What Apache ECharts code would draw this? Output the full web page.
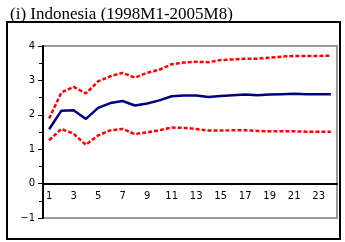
<!DOCTYPE html>
<html>
<head>
<meta charset="utf-8">
<script src="https://cdn.jsdelivr.net/npm/echarts@6/dist/echarts.min.js"></script>
<style>
html,body{margin:0;padding:0;background:#fff;}
#chart{width:345px;height:242px;}
</style>
</head>
<body>
<div id="chart"></div>
<script>
// horizons 1..24
var months = [];
for (var i = 1; i <= 24; i++) months.push(String(i));

var center = [1.58, 2.12, 2.13, 1.88, 2.20, 2.34, 2.40, 2.27, 2.33, 2.42, 2.54, 2.56,
              2.56, 2.52, 2.55, 2.57, 2.59, 2.57, 2.59, 2.60, 2.61, 2.60, 2.60, 2.60];
var upper  = [1.89, 2.65, 2.81, 2.62, 2.97, 3.12, 3.22, 3.08, 3.22, 3.31, 3.47, 3.52,
              3.54, 3.53, 3.59, 3.61, 3.63, 3.63, 3.66, 3.69, 3.71, 3.71, 3.71, 3.72];
var lower  = [1.26, 1.59, 1.45, 1.13, 1.40, 1.55, 1.59, 1.44, 1.49, 1.55, 1.63, 1.62,
              1.59, 1.54, 1.54, 1.55, 1.55, 1.53, 1.52, 1.52, 1.52, 1.51, 1.51, 1.51];

var chart = echarts.init(document.getElementById('chart'));

var labelFont = { fontFamily: 'DejaVu Sans', fontSize: 10, color: '#000' };
var gridH = 242 - 46 - 24;

chart.setOption({
    animation: false,
    title: {
        text: '(i) Indonesia (1998M1-2005M8)',
        left: 5, top: 1,
        textStyle: { fontFamily: 'Liberation Serif', fontSize: 17, fontWeight: 'normal', color: '#000' }
    },
    graphic: [{
        type: 'rect',
        shape: { x: 7, y: 22, width: 333, height: 217 },
        style: { fill: null, stroke: '#000', lineWidth: 2 },
        silent: true
    }],
    grid: {
        left: 43, right: 8, top: 46, bottom: 24,
        show: true, borderColor: '#999', borderWidth: 2
    },
    xAxis: {
        type: 'category',
        data: months,
        position: 'bottom',
        offset: -gridH / 5,   // sits on the zero line
        axisLine: { onZero: false, lineStyle: { color: '#000', width: 2 } },
        axisTick: { inside: true, length: 4, lineStyle: { color: '#000' } },
        axisLabel: Object.assign({ interval: 1, margin: 8 }, labelFont),
        splitLine: { show: false }
    },
    yAxis: {
        type: 'value',
        min: -1, max: 4, interval: 1,
        axisLine: { show: true, lineStyle: { color: '#000', width: 2 } },
        axisTick: { show: true, length: 5, lineStyle: { color: '#000' } },
        minorTick: { show: true, splitNumber: 2, length: 4, lineStyle: { color: '#000' } },
        axisLabel: Object.assign({
            margin: 8,
            formatter: function (v) { return String(v).replace('-', '\u2212'); }
        }, labelFont),
        splitLine: { show: false }
    },
    series: [
        {
            name: 'upper', type: 'line', data: upper, symbol: 'none',
            lineStyle: { color: '#ff0000', width: 2.5, type: [4, 2] }
        },
        {
            name: 'center', type: 'line', data: center, symbol: 'none',
            lineStyle: { color: '#000080', width: 2.5 }
        },
        {
            name: 'lower', type: 'line', data: lower, symbol: 'none',
            lineStyle: { color: '#ff0000', width: 2.5, type: [4, 2] }
        }
    ]
});
</script>
</body>
</html>
